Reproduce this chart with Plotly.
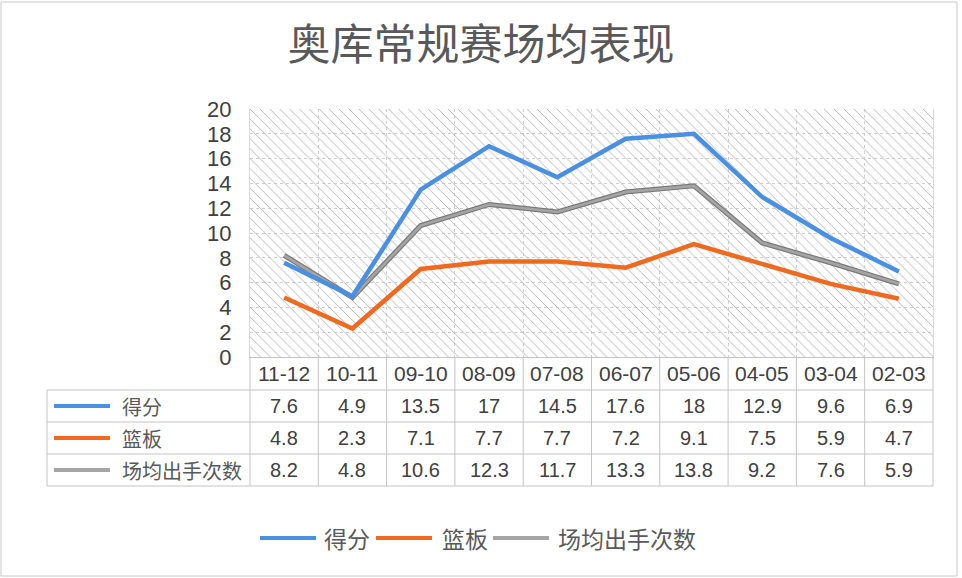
import plotly.graph_objects as go

categories = ["11-12", "10-11", "09-10", "08-09", "07-08", "06-07", "05-06", "04-05", "03-04", "02-03"]
series_names = ["得分", "篮板", "场均出手次数"]
points = [7.6, 4.9, 13.5, 17, 14.5, 17.6, 18, 12.9, 9.6, 6.9]
rebounds = [4.8, 2.3, 7.1, 7.7, 7.7, 7.2, 9.1, 7.5, 5.9, 4.7]
attempts = [8.2, 4.8, 10.6, 12.3, 11.7, 13.3, 13.8, 9.2, 7.6, 5.9]
y_ticks = [0, 2, 4, 6, 8, 10, 12, 14, 16, 18, 20]
title_text = "奥库常规赛场均表现"

colors = ["#4A90E2", "#EF6A1F", "#A5A5A5"]
values = [points, rebounds, attempts]

WIDTH, HEIGHT = 962, 578
L, T, R, B = 250, 109, 933, 357
PW, PH = R - L, B - T
YMAX = y_ticks[-1]

def px(x):
    return (x - L) / PW

def py(y):
    return (B - y) / PH

FONT = "Liberation Sans, Arial, Noto Sans CJK SC, sans-serif"
CJK = "Noto Sans CJK SC, sans-serif"
TXT = "#404040"
GRID = "#cfcfcf"
TABLE = "#c4c4c4"

fig = go.Figure()

# hatched plot-area background
fig.add_trace(go.Bar(
    x=categories, y=[YMAX] * len(categories), width=1,
    marker=dict(color="rgba(0,0,0,0)", line=dict(width=0),
                pattern=dict(shape="\\", fgcolor="#b8b8b8", bgcolor="rgba(0,0,0,0)",
                             size=7, solidity=0.14, fillmode="replace")),
    hoverinfo="skip", showlegend=False))

# gray line outline (darker edge)
fig.add_trace(go.Scatter(x=categories, y=attempts, mode="lines",
                         line=dict(color="#7a7a7a", width=5), hoverinfo="skip", showlegend=False))
fig.add_trace(go.Scatter(x=categories, y=attempts, mode="lines", name=series_names[2],
                         line=dict(color=colors[2], width=2.6), showlegend=False))
fig.add_trace(go.Scatter(x=categories, y=rebounds, mode="lines", name=series_names[1],
                         line=dict(color=colors[1], width=4.5), showlegend=False))
fig.add_trace(go.Scatter(x=categories, y=points, mode="lines", name=series_names[0],
                         line=dict(color=colors[0], width=4.5), showlegend=False))

shapes = []
annotations = []

# outer frame
shapes.append(dict(type="rect", xref="paper", yref="paper",
                   x0=px(1), x1=px(957), y0=py(576), y1=py(2),
                   line=dict(color="#c8c8c8", width=1), fillcolor="rgba(0,0,0,0)", layer="below"))

# data table
row_lines = [390, 422, 454, 486]
for yl in row_lines:
    shapes.append(dict(type="line", xref="paper", yref="paper",
                       x0=px(47), x1=px(R), y0=py(yl), y1=py(yl),
                       line=dict(color=TABLE, width=1)))
n = len(categories)
for k in range(n + 1):
    shapes.append(dict(type="line", xref="paper", yref="paper",
                       x0=k / n, x1=k / n, y0=py(B), y1=py(486),
                       line=dict(color=TABLE, width=1)))
shapes.append(dict(type="line", xref="paper", yref="paper",
                   x0=px(47), x1=px(47), y0=py(390), y1=py(486),
                   line=dict(color=TABLE, width=1)))

# header labels
for c in categories:
    annotations.append(dict(x=c, xref="x", y=py((B + 390) / 2), yref="paper",
                            text=c, showarrow=False, xanchor="center", yanchor="middle",
                            font=dict(family=FONT, size=21, color=TXT)))

# rows
for i, (name, vals, col) in enumerate(zip(series_names, values, colors)):
    yc = (row_lines[i] + row_lines[i + 1]) / 2
    shapes.append(dict(type="line", xref="paper", yref="paper",
                       x0=px(54), x1=px(110), y0=py(yc), y1=py(yc),
                       line=dict(color=col, width=4)))
    annotations.append(dict(x=px(120), xref="paper", y=py(yc), yref="paper",
                            text=name, showarrow=False, xanchor="left", yanchor="middle",
                            font=dict(family=CJK, size=20, color="#595959")))
    for c, v in zip(categories, vals):
        annotations.append(dict(x=c, xref="x", y=py(yc), yref="paper",
                                text=f"{v:g}", showarrow=False, xanchor="center", yanchor="middle",
                                font=dict(family=FONT, size=20, color=TXT)))

# bottom legend
leg_y = 538
leg_items = [(260, 316, 322), (376, 432, 440), (493, 549, 556)]
for (x0, x1, tx), name, col in zip(leg_items, series_names, colors):
    shapes.append(dict(type="line", xref="paper", yref="paper",
                       x0=px(x0), x1=px(x1), y0=py(leg_y), y1=py(leg_y),
                       line=dict(color=col, width=4)))
    annotations.append(dict(x=px(tx), xref="paper", y=py(leg_y), yref="paper",
                            text=name, showarrow=False, xanchor="left", yanchor="middle",
                            font=dict(family=CJK, size=23, color="#595959")))

fig.update_layout(
    width=WIDTH, height=HEIGHT,
    margin=dict(l=L, r=WIDTH - R, t=T, b=HEIGHT - B),
    paper_bgcolor="white", plot_bgcolor="white",
    title=dict(text=title_text, x=0.5, xanchor="center", y=1 - 45 / HEIGHT, yanchor="middle",
               font=dict(family=CJK, size=43, color="#595959")),
    shapes=shapes, annotations=annotations,
    showlegend=False,
    xaxis=dict(type="category", range=[-0.5, n - 0.5], showticklabels=False,
               tickson="boundaries", showgrid=True, gridcolor=GRID, griddash="dot",
               ticks="", showline=True, linecolor=TABLE, mirror=False, zeroline=False,
               fixedrange=True),
    yaxis=dict(range=[0, YMAX], tickvals=y_ticks, showgrid=True, gridcolor=GRID, griddash="dot",
               zeroline=False, showline=True, linecolor="#d9d9d9", mirror=True,
               ticks="", ticklabelstandoff=13,
               tickfont=dict(family=FONT, size=22, color=TXT), fixedrange=True),
)

fig.write_html("out.html")
